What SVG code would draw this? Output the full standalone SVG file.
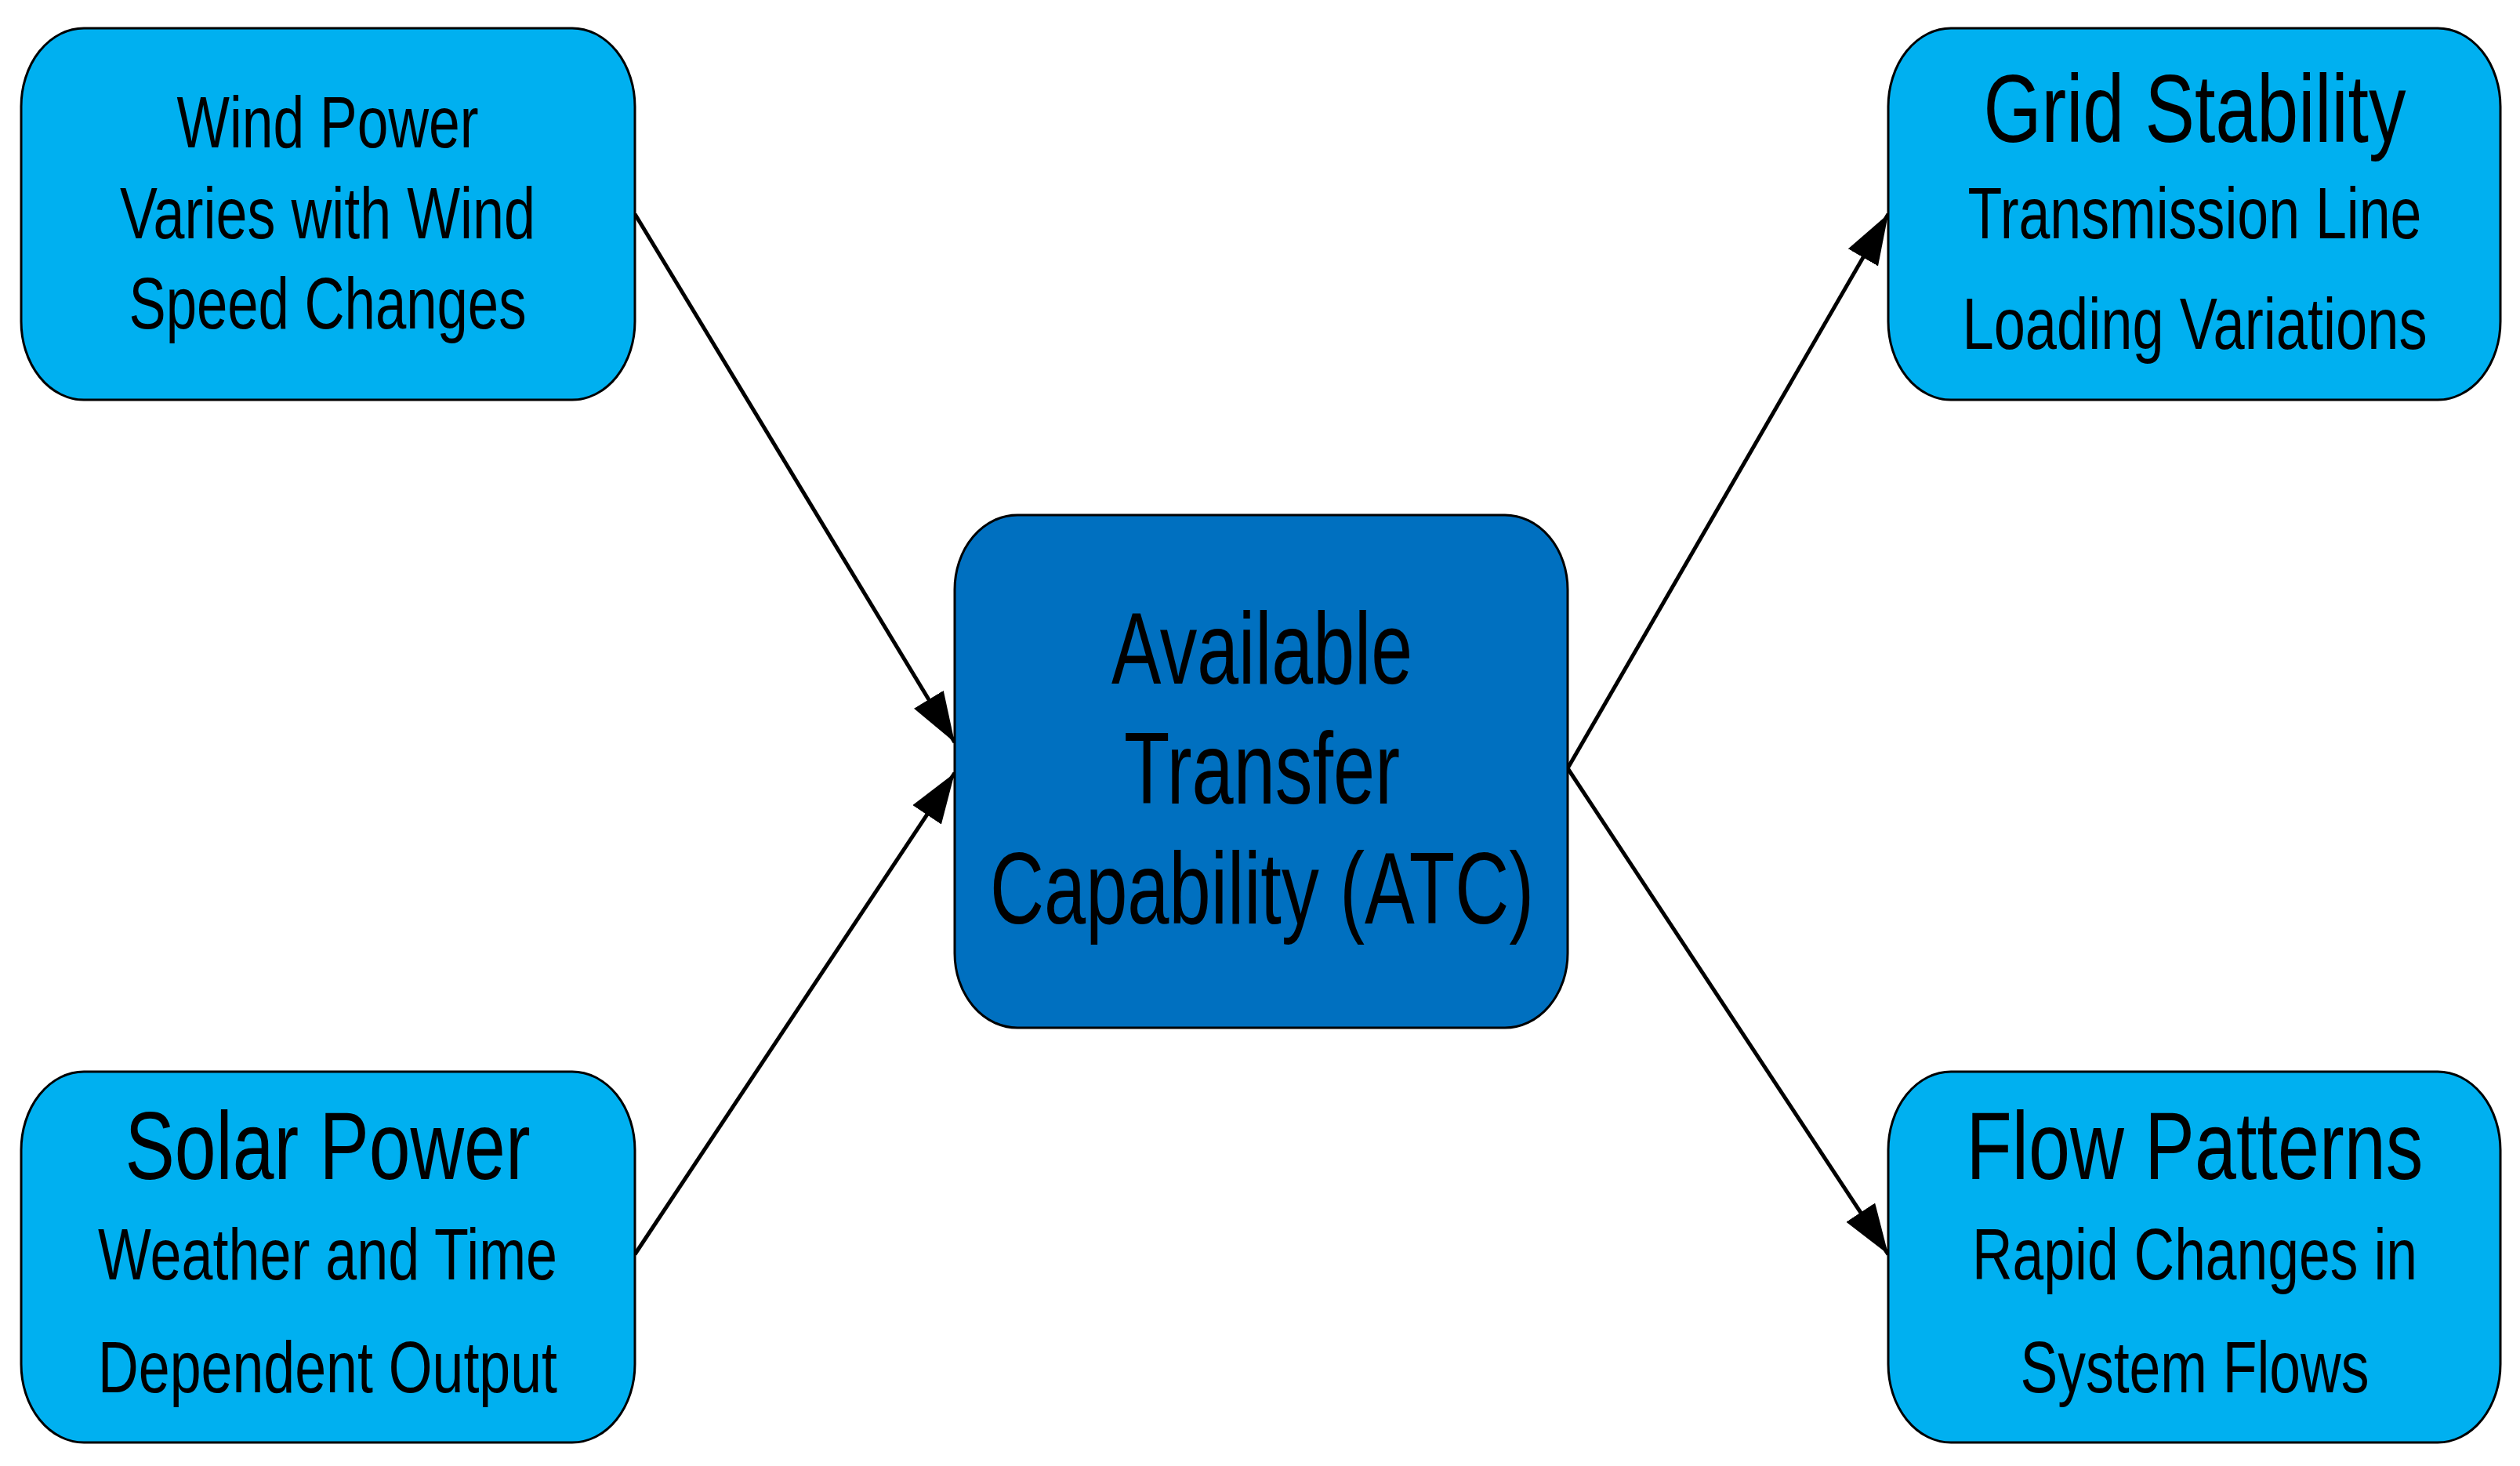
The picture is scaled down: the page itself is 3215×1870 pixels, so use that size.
<svg xmlns="http://www.w3.org/2000/svg" width="3215" height="1870" viewBox="0 0 3215 1870">
<style>
.n{fill:#00B0F0;stroke:#000;stroke-width:3}
.c{fill:#0070C0;stroke:#000;stroke-width:3}
text{font-family:"Liberation Sans",Arial,sans-serif;text-anchor:middle;fill:#000}
.s{font-size:92px}
.t{font-size:122px}
.b{font-size:130px}
.e{stroke:#000;stroke-width:5;fill:none;marker-end:url(#a)}
</style>
<defs><marker id="a" markerUnits="userSpaceOnUse" markerWidth="70" markerHeight="50" refX="64" refY="22" orient="auto"><path d="M0,0L64,22L0,44z" fill="#000"/></marker></defs>
<rect width="3215" height="1870" fill="#fff"/>
<g id="edges">
<line class="e" x1="810" y1="273" x2="1218" y2="947"/>
<line class="e" x1="810" y1="1600" x2="1218" y2="986"/>
<line class="e" x1="2000" y1="980" x2="2409" y2="273"/>
<line class="e" x1="2000" y1="980" x2="2409" y2="1600"/>
</g>
<g id="wind"><rect class="n" x="27" y="36" width="783" height="474" rx="80" ry="100"/>
<text class="s" x="418" y="188" textLength="385" lengthAdjust="spacingAndGlyphs">Wind Power</text>
<text class="s" x="418" y="304" textLength="530" lengthAdjust="spacingAndGlyphs">Varies with Wind</text>
<text class="s" x="418" y="419" textLength="507" lengthAdjust="spacingAndGlyphs">Speed Changes</text></g>
<g id="solar"><rect class="n" x="27" y="1367" width="783" height="473" rx="80" ry="100"/>
<text class="t" x="418" y="1504" textLength="517" lengthAdjust="spacingAndGlyphs">Solar Power</text>
<text class="s" x="418" y="1632" textLength="586" lengthAdjust="spacingAndGlyphs">Weather and Time</text>
<text class="s" x="418" y="1776" textLength="586" lengthAdjust="spacingAndGlyphs">Dependent Output</text></g>
<g id="atc"><rect class="c" x="1218" y="657" width="782" height="654" rx="80" ry="95"/>
<text class="b" x="1610" y="872" textLength="384" lengthAdjust="spacingAndGlyphs">Available</text>
<text class="b" x="1610" y="1025" textLength="352" lengthAdjust="spacingAndGlyphs">Transfer</text>
<text class="b" x="1610" y="1178" textLength="694" lengthAdjust="spacingAndGlyphs">Capability (ATC)</text></g>
<g id="grid"><rect class="n" x="2409" y="36" width="781" height="474" rx="80" ry="100"/>
<text class="t" x="2800" y="181" textLength="539" lengthAdjust="spacingAndGlyphs">Grid Stability</text>
<text class="s" x="2800" y="304" textLength="579" lengthAdjust="spacingAndGlyphs">Transmission Line</text>
<text class="s" x="2800" y="445" textLength="593" lengthAdjust="spacingAndGlyphs">Loading Variations</text></g>
<g id="flow"><rect class="n" x="2409" y="1367" width="781" height="473" rx="80" ry="100"/>
<text class="t" x="2800" y="1504" textLength="583" lengthAdjust="spacingAndGlyphs">Flow Patterns</text>
<text class="s" x="2800" y="1632" textLength="568" lengthAdjust="spacingAndGlyphs">Rapid Changes in</text>
<text class="s" x="2800" y="1776" textLength="445" lengthAdjust="spacingAndGlyphs">System Flows</text></g>
</svg>
